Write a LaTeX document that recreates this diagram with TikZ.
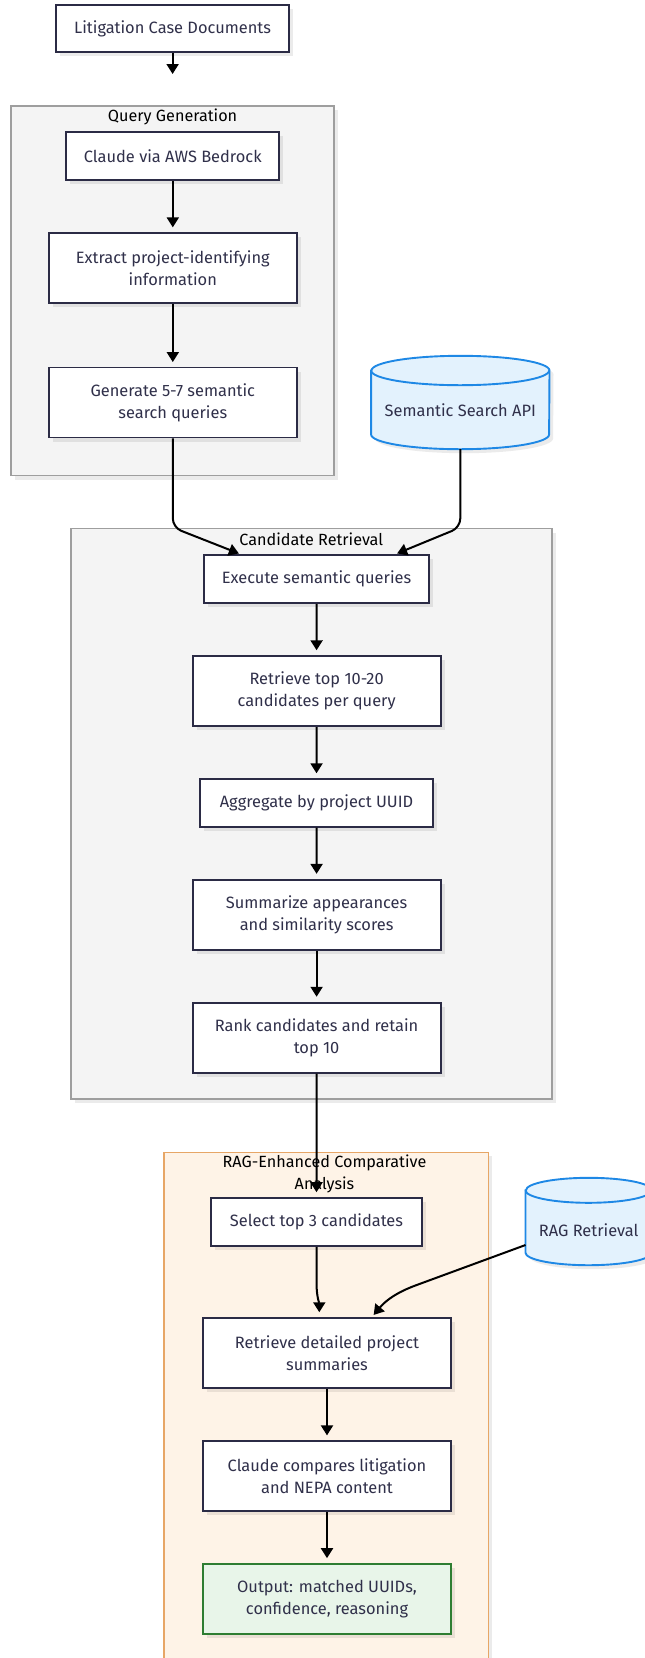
\documentclass[tikz,border=0pt]{standalone}
\usepackage{fontspec}
\setmainfont{Fira Sans}
\usetikzlibrary{arrows.meta,calc,shadows}

\definecolor{ink}{HTML}{30304A}
\definecolor{boxline}{HTML}{2B2B45}
\definecolor{groupfill}{HTML}{F4F4F4}
\definecolor{groupline}{HTML}{9E9E9E}
\definecolor{ragfill}{HTML}{FEF3E7}
\definecolor{ragline}{HTML}{E7A666}
\definecolor{dbfill}{HTML}{E3F2FD}
\definecolor{dbline}{HTML}{1E88E5}
\definecolor{okfill}{HTML}{E8F5E9}
\definecolor{okline}{HTML}{2E7D32}

\pgfdeclarelayer{groups}
\pgfdeclarelayer{shapes}
\pgfsetlayers{groups,shapes,main}

\tikzset{
  softshadow/.style={drop shadow={shadow xshift=4pt,shadow yshift=-4pt,fill=black,opacity=0.08}},
  stepbox/.style={rectangle, draw=boxline, line width=1.9pt, fill=white, text=ink,
    align=center, inner sep=0pt, font=\fontsize{16.4pt}{22pt}\selectfont, softshadow},
  outbox/.style={stepbox, draw=okline, fill=okfill},
  group/.style={draw=groupline, line width=1.5pt, fill=groupfill, softshadow},
  raggroup/.style={draw=ragline, line width=1.5pt, fill=ragfill, softshadow},
  grouptitle/.style={text=black, align=center, inner sep=0pt, font=\fontsize{16.2pt}{22pt}\selectfont},
  dbnode/.style={rectangle, draw=none, inner sep=0pt},
  dblabel/.style={text=ink, inner sep=0pt, font=\fontsize{16.4pt}{22pt}\selectfont},
  cylbody/.style={fill=dbfill, draw=dbline, line width=1.9pt, softshadow},
  cylrim/.style={draw=dbline, line width=1.9pt},
  flow/.style={draw=black, line width=2pt, -{Triangle[width=12pt,length=10pt]}},
}

% cylinder outline around a node: #1 node, #2 x radius, #3 y radius of the end caps
\newcommand\cylshape[3]{%
  \begin{pgfonlayer}{shapes}
    \path[cylbody] ($(#1.north west)+(0,-#3)$) -- ($(#1.south west)+(0,#3)$)
      arc[start angle=180,end angle=360,x radius=#2pt,y radius=#3pt]
      -- ($(#1.north east)+(0,-#3)$)
      arc[start angle=0,end angle=180,x radius=#2pt,y radius=#3pt] -- cycle;
    \path[cylrim] ($(#1.north west)+(0,-#3)$)
      arc[start angle=180,end angle=360,x radius=#2pt,y radius=#3pt];
  \end{pgfonlayer}}

\begin{document}
\begin{tikzpicture}[x=1pt,y=1pt]
\useasboundingbox (0,0) rectangle (645,-1658);

% ---- group frames and their titles
\begin{pgfonlayer}{groups}
  \draw[group] (11.1,-106) rectangle (334.2,-475.7);
  \node[grouptitle] (qgtitle) at (172.6,-116.5) {Query Generation};
  \draw[group] (70.8,-528.6) rectangle (551.9,-1098.8);
  \node[grouptitle] (crtitle) at (311.3,-539.5) {Candidate Retrieval};
  \draw[raggroup] (164,-1152.3) rectangle (488.3,-1680);
  \node[grouptitle] (ragtitle) at (324.5,-1174.3) {RAG-Enhanced Comparative\\Analysis};
\end{pgfonlayer}

% ---- process steps
\node[stepbox, minimum width=233pt, minimum height=47pt] (lit) at (172.6,-28.5) {Litigation Case Documents};

\node[stepbox, minimum width=213pt, minimum height=48pt] (claude) at (172.8,-156.2) {Claude via AWS Bedrock};
\node[stepbox, minimum width=248pt, minimum height=70pt] (extract) at (172.8,-267.8) {Extract project-identifying\\information};
\node[stepbox, minimum width=248pt, minimum height=70pt] (gen) at (172.8,-402.5) {Generate 5-7 semantic\\search queries};

\node[dbnode, minimum width=178pt, minimum height=93pt,
  label={[dblabel, yshift=-7.5pt]center:Semantic Search API}] (ssapi) at (460.3,-402.5) {};
\cylshape{ssapi}{89}{14.7}

\node[stepbox, minimum width=225.5pt, minimum height=48pt] (exec) at (316.5,-579) {Execute semantic queries};
\node[stepbox, minimum width=248pt, minimum height=70pt] (rtop) at (316.6,-691.2) {Retrieve top 10-20\\candidates per query};
\node[stepbox, minimum width=233pt, minimum height=47.5pt] (agg) at (316.5,-803) {Aggregate by project UUID};
\node[stepbox, minimum width=248pt, minimum height=70pt] (summ) at (316.6,-914.8) {Summarize appearances\\and similarity scores};
\node[stepbox, minimum width=248pt, minimum height=70pt] (rank) at (316.6,-1037.7) {Rank candidates and retain\\top 10};

\node[stepbox, minimum width=211.6pt, minimum height=47.7pt] (sel) at (316.5,-1222) {Select top 3 candidates};
\node[stepbox, minimum width=248.6pt, minimum height=70pt] (rdet) at (327,-1353.2) {Retrieve detailed project\\summaries};
\node[stepbox, minimum width=248.6pt, minimum height=70pt] (ccomp) at (327,-1476.3) {Claude compares litigation\\and NEPA content};
\node[outbox, minimum width=248.6pt, minimum height=70pt] (out) at (327,-1599.1) {Output: matched UUIDs,\\confidence, reasoning};

\node[dbnode, minimum width=126pt, minimum height=87pt,
  label={[dblabel, yshift=-8.5pt]center:RAG Retrieval}] (ragret) at (588.7,-1221.5) {};
\cylshape{ragret}{63}{12.5}

% ---- connectors
\coordinate (litend) at (172.6,-74);
\draw[flow] (lit.south) -- (litend);
\draw[flow, shorten >=4.5pt] (claude.south) -- (extract.north);
\draw[flow, shorten >=4.5pt] (extract.south) -- (gen.north);

\draw[flow, rounded corners=9pt, shorten >=1.5pt] (gen.south) -- (172.8,-527.5) -- ($(exec.north west)+(37.5,0)$);
\draw[flow, rounded corners=9pt, shorten >=1.5pt] (ssapi.south) -- (460.3,-527.5) -- ($(exec.north east)+(-34.5,0)$);

\draw[flow, shorten >=5pt] (exec.south) -- (rtop.north);
\draw[flow, shorten >=5pt] (rtop.south) -- (agg.north);
\draw[flow, shorten >=5pt] (agg.south) -- (summ.north);
\draw[flow, shorten >=5pt] (summ.south) -- (rank.north);
\draw[flow, shorten >=5pt] (rank.south) -- (sel.north);

\draw[flow, shorten >=5pt] (sel.south) -- ($(sel.south)+(0,-36)$)
  to[out=-90,in=90] ($(rdet.north)+(-7.7,0)$);
\coordinate (ragout) at ($(ragret.west)+(0,-23.5)$);
\draw[flow, shorten >=3pt] (ragout) -- (416.7,-1285)
  to[out=200,in=50] ($(rdet.north)+(44.7,0)$);

\draw[flow, shorten >=5pt] (rdet.south) -- (ccomp.north);
\draw[flow, shorten >=5pt] (ccomp.south) -- (out.north);
\end{tikzpicture}
\end{document}
